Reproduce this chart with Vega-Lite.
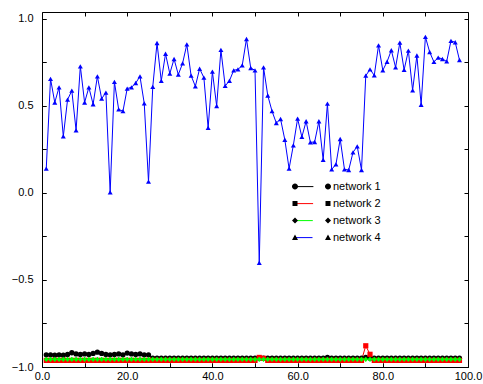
{
"$schema":"https://vega.github.io/schema/vega-lite/v6.json",
"width":426,"height":355,
"autosize":{"type":"none"},
"padding":{"left":42,"top":12,"right":15,"bottom":17},
"background":"white",
"config":{"view":{"stroke":"black","strokeWidth":1},"font":"Liberation Sans",
 "axis":{"title":null,"domain":false,"grid":true,"gridColor":"black","gridOpacity":1,"gridWidth":1,"tickColor":"black","tickWidth":1,"labelColor":"black","labelFont":"Liberation Sans","labelFontSize":11,"labelOverlap":false,"labelFlush":false}},
"data":{"values":[
{"series":"network 1","x":1,"y":-0.93},{"series":"network 1","x":2,"y":-0.93},{"series":"network 1","x":3,"y":-0.932},{"series":"network 1","x":4,"y":-0.93},{"series":"network 1","x":5,"y":-0.932},{"series":"network 1","x":6,"y":-0.928},{"series":"network 1","x":7,"y":-0.918},{"series":"network 1","x":8,"y":-0.925},{"series":"network 1","x":9,"y":-0.928},{"series":"network 1","x":10,"y":-0.925},{"series":"network 1","x":11,"y":-0.928},{"series":"network 1","x":12,"y":-0.922},{"series":"network 1","x":13,"y":-0.915},{"series":"network 1","x":14,"y":-0.922},{"series":"network 1","x":15,"y":-0.928},{"series":"network 1","x":16,"y":-0.93},{"series":"network 1","x":17,"y":-0.928},{"series":"network 1","x":18,"y":-0.925},{"series":"network 1","x":19,"y":-0.93},{"series":"network 1","x":20,"y":-0.92},{"series":"network 1","x":21,"y":-0.925},{"series":"network 1","x":22,"y":-0.928},{"series":"network 1","x":23,"y":-0.925},{"series":"network 1","x":24,"y":-0.93},{"series":"network 1","x":25,"y":-0.93},
{"series":"network 1","x":26,"y":-0.949},{"series":"network 1","x":27,"y":-0.949},{"series":"network 1","x":28,"y":-0.949},{"series":"network 1","x":29,"y":-0.949},{"series":"network 1","x":30,"y":-0.949},{"series":"network 1","x":31,"y":-0.949},{"series":"network 1","x":32,"y":-0.949},{"series":"network 1","x":33,"y":-0.949},{"series":"network 1","x":34,"y":-0.949},{"series":"network 1","x":35,"y":-0.949},{"series":"network 1","x":36,"y":-0.949},{"series":"network 1","x":37,"y":-0.949},{"series":"network 1","x":38,"y":-0.949},{"series":"network 1","x":39,"y":-0.949},{"series":"network 1","x":40,"y":-0.949},{"series":"network 1","x":41,"y":-0.949},{"series":"network 1","x":42,"y":-0.949},{"series":"network 1","x":43,"y":-0.949},{"series":"network 1","x":44,"y":-0.949},{"series":"network 1","x":45,"y":-0.949},{"series":"network 1","x":46,"y":-0.949},{"series":"network 1","x":47,"y":-0.949},{"series":"network 1","x":48,"y":-0.949},{"series":"network 1","x":49,"y":-0.949},{"series":"network 1","x":50,"y":-0.949},{"series":"network 1","x":51,"y":-0.949},{"series":"network 1","x":52,"y":-0.949},{"series":"network 1","x":53,"y":-0.949},{"series":"network 1","x":54,"y":-0.949},{"series":"network 1","x":55,"y":-0.949},{"series":"network 1","x":56,"y":-0.949},{"series":"network 1","x":57,"y":-0.949},{"series":"network 1","x":58,"y":-0.949},{"series":"network 1","x":59,"y":-0.949},{"series":"network 1","x":60,"y":-0.949},{"series":"network 1","x":61,"y":-0.949},{"series":"network 1","x":62,"y":-0.949},{"series":"network 1","x":63,"y":-0.949},{"series":"network 1","x":64,"y":-0.949},{"series":"network 1","x":65,"y":-0.949},{"series":"network 1","x":66,"y":-0.949},{"series":"network 1","x":67,"y":-0.945},{"series":"network 1","x":68,"y":-0.949},{"series":"network 1","x":69,"y":-0.949},{"series":"network 1","x":70,"y":-0.949},{"series":"network 1","x":71,"y":-0.949},{"series":"network 1","x":72,"y":-0.949},{"series":"network 1","x":73,"y":-0.949},{"series":"network 1","x":74,"y":-0.949},{"series":"network 1","x":75,"y":-0.949},{"series":"network 1","x":76,"y":-0.945},{"series":"network 1","x":77,"y":-0.949},{"series":"network 1","x":78,"y":-0.949},{"series":"network 1","x":79,"y":-0.949},{"series":"network 1","x":80,"y":-0.949},{"series":"network 1","x":81,"y":-0.949},{"series":"network 1","x":82,"y":-0.949},{"series":"network 1","x":83,"y":-0.949},{"series":"network 1","x":84,"y":-0.949},{"series":"network 1","x":85,"y":-0.949},{"series":"network 1","x":86,"y":-0.949},{"series":"network 1","x":87,"y":-0.949},{"series":"network 1","x":88,"y":-0.949},{"series":"network 1","x":89,"y":-0.949},{"series":"network 1","x":90,"y":-0.949},{"series":"network 1","x":91,"y":-0.949},{"series":"network 1","x":92,"y":-0.949},{"series":"network 1","x":93,"y":-0.949},{"series":"network 1","x":94,"y":-0.949},{"series":"network 1","x":95,"y":-0.949},{"series":"network 1","x":96,"y":-0.949},{"series":"network 1","x":97,"y":-0.949},{"series":"network 1","x":98,"y":-0.949},
{"series":"network 2","x":1,"y":-0.962},{"series":"network 2","x":2,"y":-0.962},{"series":"network 2","x":3,"y":-0.962},{"series":"network 2","x":4,"y":-0.962},{"series":"network 2","x":5,"y":-0.962},{"series":"network 2","x":6,"y":-0.962},{"series":"network 2","x":7,"y":-0.962},{"series":"network 2","x":8,"y":-0.962},{"series":"network 2","x":9,"y":-0.962},{"series":"network 2","x":10,"y":-0.962},{"series":"network 2","x":11,"y":-0.962},{"series":"network 2","x":12,"y":-0.962},{"series":"network 2","x":13,"y":-0.962},{"series":"network 2","x":14,"y":-0.962},{"series":"network 2","x":15,"y":-0.962},{"series":"network 2","x":16,"y":-0.962},{"series":"network 2","x":17,"y":-0.962},{"series":"network 2","x":18,"y":-0.962},{"series":"network 2","x":19,"y":-0.962},{"series":"network 2","x":20,"y":-0.962},{"series":"network 2","x":21,"y":-0.962},{"series":"network 2","x":22,"y":-0.962},{"series":"network 2","x":23,"y":-0.962},{"series":"network 2","x":24,"y":-0.962},{"series":"network 2","x":25,"y":-0.962},{"series":"network 2","x":26,"y":-0.962},{"series":"network 2","x":27,"y":-0.962},{"series":"network 2","x":28,"y":-0.962},{"series":"network 2","x":29,"y":-0.962},{"series":"network 2","x":30,"y":-0.962},{"series":"network 2","x":31,"y":-0.962},{"series":"network 2","x":32,"y":-0.962},{"series":"network 2","x":33,"y":-0.962},{"series":"network 2","x":34,"y":-0.962},{"series":"network 2","x":35,"y":-0.962},{"series":"network 2","x":36,"y":-0.962},{"series":"network 2","x":37,"y":-0.962},{"series":"network 2","x":38,"y":-0.962},{"series":"network 2","x":39,"y":-0.962},{"series":"network 2","x":40,"y":-0.962},{"series":"network 2","x":41,"y":-0.962},{"series":"network 2","x":42,"y":-0.962},{"series":"network 2","x":43,"y":-0.962},{"series":"network 2","x":44,"y":-0.962},{"series":"network 2","x":45,"y":-0.962},{"series":"network 2","x":46,"y":-0.962},{"series":"network 2","x":47,"y":-0.962},{"series":"network 2","x":48,"y":-0.962},{"series":"network 2","x":49,"y":-0.962},{"series":"network 2","x":50,"y":-0.962},{"series":"network 2","x":51,"y":-0.945},{"series":"network 2","x":52,"y":-0.95},{"series":"network 2","x":53,"y":-0.962},{"series":"network 2","x":54,"y":-0.962},{"series":"network 2","x":55,"y":-0.962},{"series":"network 2","x":56,"y":-0.962},{"series":"network 2","x":57,"y":-0.962},{"series":"network 2","x":58,"y":-0.962},{"series":"network 2","x":59,"y":-0.962},{"series":"network 2","x":60,"y":-0.962},{"series":"network 2","x":61,"y":-0.962},{"series":"network 2","x":62,"y":-0.962},{"series":"network 2","x":63,"y":-0.962},{"series":"network 2","x":64,"y":-0.962},{"series":"network 2","x":65,"y":-0.962},{"series":"network 2","x":66,"y":-0.962},{"series":"network 2","x":67,"y":-0.962},{"series":"network 2","x":68,"y":-0.962},{"series":"network 2","x":69,"y":-0.962},{"series":"network 2","x":70,"y":-0.962},{"series":"network 2","x":71,"y":-0.962},{"series":"network 2","x":72,"y":-0.962},{"series":"network 2","x":73,"y":-0.962},{"series":"network 2","x":74,"y":-0.962},{"series":"network 2","x":75,"y":-0.962},{"series":"network 2","x":76,"y":-0.878},{"series":"network 2","x":77,"y":-0.927},{"series":"network 2","x":78,"y":-0.962},{"series":"network 2","x":79,"y":-0.962},{"series":"network 2","x":80,"y":-0.962},{"series":"network 2","x":81,"y":-0.962},{"series":"network 2","x":82,"y":-0.962},{"series":"network 2","x":83,"y":-0.962},{"series":"network 2","x":84,"y":-0.962},{"series":"network 2","x":85,"y":-0.962},{"series":"network 2","x":86,"y":-0.962},{"series":"network 2","x":87,"y":-0.962},{"series":"network 2","x":88,"y":-0.962},{"series":"network 2","x":89,"y":-0.962},{"series":"network 2","x":90,"y":-0.962},{"series":"network 2","x":91,"y":-0.962},{"series":"network 2","x":92,"y":-0.962},{"series":"network 2","x":93,"y":-0.962},{"series":"network 2","x":94,"y":-0.962},{"series":"network 2","x":95,"y":-0.962},{"series":"network 2","x":96,"y":-0.962},{"series":"network 2","x":97,"y":-0.962},{"series":"network 2","x":98,"y":-0.962},
{"series":"network 3","x":1,"y":-0.956},{"series":"network 3","x":2,"y":-0.956},{"series":"network 3","x":3,"y":-0.956},{"series":"network 3","x":4,"y":-0.956},{"series":"network 3","x":5,"y":-0.956},{"series":"network 3","x":6,"y":-0.956},{"series":"network 3","x":7,"y":-0.956},{"series":"network 3","x":8,"y":-0.956},{"series":"network 3","x":9,"y":-0.956},{"series":"network 3","x":10,"y":-0.956},{"series":"network 3","x":11,"y":-0.956},{"series":"network 3","x":12,"y":-0.956},{"series":"network 3","x":13,"y":-0.956},{"series":"network 3","x":14,"y":-0.956},{"series":"network 3","x":15,"y":-0.956},{"series":"network 3","x":16,"y":-0.956},{"series":"network 3","x":17,"y":-0.956},{"series":"network 3","x":18,"y":-0.956},{"series":"network 3","x":19,"y":-0.956},{"series":"network 3","x":20,"y":-0.956},{"series":"network 3","x":21,"y":-0.956},{"series":"network 3","x":22,"y":-0.956},{"series":"network 3","x":23,"y":-0.956},{"series":"network 3","x":24,"y":-0.956},{"series":"network 3","x":25,"y":-0.956},{"series":"network 3","x":26,"y":-0.956},{"series":"network 3","x":27,"y":-0.956},{"series":"network 3","x":28,"y":-0.956},{"series":"network 3","x":29,"y":-0.956},{"series":"network 3","x":30,"y":-0.956},{"series":"network 3","x":31,"y":-0.956},{"series":"network 3","x":32,"y":-0.956},{"series":"network 3","x":33,"y":-0.956},{"series":"network 3","x":34,"y":-0.956},{"series":"network 3","x":35,"y":-0.956},{"series":"network 3","x":36,"y":-0.956},{"series":"network 3","x":37,"y":-0.956},{"series":"network 3","x":38,"y":-0.956},{"series":"network 3","x":39,"y":-0.956},{"series":"network 3","x":40,"y":-0.956},{"series":"network 3","x":41,"y":-0.956},{"series":"network 3","x":42,"y":-0.956},{"series":"network 3","x":43,"y":-0.956},{"series":"network 3","x":44,"y":-0.956},{"series":"network 3","x":45,"y":-0.956},{"series":"network 3","x":46,"y":-0.956},{"series":"network 3","x":47,"y":-0.956},{"series":"network 3","x":48,"y":-0.956},{"series":"network 3","x":49,"y":-0.956},{"series":"network 3","x":50,"y":-0.956},{"series":"network 3","x":51,"y":-0.956},{"series":"network 3","x":52,"y":-0.956},{"series":"network 3","x":53,"y":-0.956},{"series":"network 3","x":54,"y":-0.956},{"series":"network 3","x":55,"y":-0.956},{"series":"network 3","x":56,"y":-0.956},{"series":"network 3","x":57,"y":-0.956},{"series":"network 3","x":58,"y":-0.956},{"series":"network 3","x":59,"y":-0.956},{"series":"network 3","x":60,"y":-0.956},{"series":"network 3","x":61,"y":-0.956},{"series":"network 3","x":62,"y":-0.956},{"series":"network 3","x":63,"y":-0.956},{"series":"network 3","x":64,"y":-0.956},{"series":"network 3","x":65,"y":-0.956},{"series":"network 3","x":66,"y":-0.956},{"series":"network 3","x":67,"y":-0.956},{"series":"network 3","x":68,"y":-0.956},{"series":"network 3","x":69,"y":-0.956},{"series":"network 3","x":70,"y":-0.956},{"series":"network 3","x":71,"y":-0.956},{"series":"network 3","x":72,"y":-0.956},{"series":"network 3","x":73,"y":-0.956},{"series":"network 3","x":74,"y":-0.956},{"series":"network 3","x":75,"y":-0.956},{"series":"network 3","x":76,"y":-0.956},{"series":"network 3","x":77,"y":-0.956},{"series":"network 3","x":78,"y":-0.956},{"series":"network 3","x":79,"y":-0.956},{"series":"network 3","x":80,"y":-0.956},{"series":"network 3","x":81,"y":-0.956},{"series":"network 3","x":82,"y":-0.956},{"series":"network 3","x":83,"y":-0.956},{"series":"network 3","x":84,"y":-0.956},{"series":"network 3","x":85,"y":-0.956},{"series":"network 3","x":86,"y":-0.956},{"series":"network 3","x":87,"y":-0.956},{"series":"network 3","x":88,"y":-0.956},{"series":"network 3","x":89,"y":-0.956},{"series":"network 3","x":90,"y":-0.956},{"series":"network 3","x":91,"y":-0.956},{"series":"network 3","x":92,"y":-0.956},{"series":"network 3","x":93,"y":-0.956},{"series":"network 3","x":94,"y":-0.956},{"series":"network 3","x":95,"y":-0.956},{"series":"network 3","x":96,"y":-0.956},{"series":"network 3","x":97,"y":-0.956},{"series":"network 3","x":98,"y":-0.956},
{"series":"network 4","x":1,"y":0.14},{"series":"network 4","x":2,"y":0.656},{"series":"network 4","x":3,"y":0.52},{"series":"network 4","x":4,"y":0.607},{"series":"network 4","x":5,"y":0.325},{"series":"network 4","x":6,"y":0.536},{"series":"network 4","x":7,"y":0.588},{"series":"network 4","x":8,"y":0.36},{"series":"network 4","x":9,"y":0.728},{"series":"network 4","x":10,"y":0.52},{"series":"network 4","x":11,"y":0.607},{"series":"network 4","x":12,"y":0.51},{"series":"network 4","x":13,"y":0.67},{"series":"network 4","x":14,"y":0.542},{"series":"network 4","x":15,"y":0.577},{"series":"network 4","x":16,"y":0.003},{"series":"network 4","x":17,"y":0.638},{"series":"network 4","x":18,"y":0.48},{"series":"network 4","x":19,"y":0.47},{"series":"network 4","x":20,"y":0.6},{"series":"network 4","x":21,"y":0.607},{"series":"network 4","x":22,"y":0.632},{"series":"network 4","x":23,"y":0.67},{"series":"network 4","x":24,"y":0.515},{"series":"network 4","x":25,"y":0.065},{"series":"network 4","x":26,"y":0.61},{"series":"network 4","x":27,"y":0.862},{"series":"network 4","x":28,"y":0.644},{"series":"network 4","x":29,"y":0.8},{"series":"network 4","x":30,"y":0.686},{"series":"network 4","x":31,"y":0.77},{"series":"network 4","x":32,"y":0.68},{"series":"network 4","x":33,"y":0.745},{"series":"network 4","x":34,"y":0.854},{"series":"network 4","x":35,"y":0.674},{"series":"network 4","x":36,"y":0.613},{"series":"network 4","x":37,"y":0.714},{"series":"network 4","x":38,"y":0.663},{"series":"network 4","x":39,"y":0.374},{"series":"network 4","x":40,"y":0.697},{"series":"network 4","x":41,"y":0.5},{"series":"network 4","x":42,"y":0.822},{"series":"network 4","x":43,"y":0.615},{"series":"network 4","x":44,"y":0.645},{"series":"network 4","x":45,"y":0.705},{"series":"network 4","x":46,"y":0.71},{"series":"network 4","x":47,"y":0.733},{"series":"network 4","x":48,"y":0.885},{"series":"network 4","x":49,"y":0.718},{"series":"network 4","x":50,"y":0.705},{"series":"network 4","x":51,"y":-0.402},{"series":"network 4","x":52,"y":0.722},{"series":"network 4","x":53,"y":0.56},{"series":"network 4","x":54,"y":0.47},{"series":"network 4","x":55,"y":0.402},{"series":"network 4","x":56,"y":0.425},{"series":"network 4","x":57,"y":0.306},{"series":"network 4","x":58,"y":0.14},{"series":"network 4","x":59,"y":0.274},{"series":"network 4","x":60,"y":0.427},{"series":"network 4","x":61,"y":0.322},{"series":"network 4","x":62,"y":0.412},{"series":"network 4","x":63,"y":0.291},{"series":"network 4","x":64,"y":0.293},{"series":"network 4","x":65,"y":0.412},{"series":"network 4","x":66,"y":0.19},{"series":"network 4","x":67,"y":0.513},{"series":"network 4","x":68,"y":0.136},{"series":"network 4","x":69,"y":0.164},{"series":"network 4","x":70,"y":0.31},{"series":"network 4","x":71,"y":0.136},{"series":"network 4","x":72,"y":0.132},{"series":"network 4","x":73,"y":0.233},{"series":"network 4","x":74,"y":0.268},{"series":"network 4","x":75,"y":0.132},{"series":"network 4","x":76,"y":0.674},{"series":"network 4","x":77,"y":0.71},{"series":"network 4","x":78,"y":0.676},{"series":"network 4","x":79,"y":0.848},{"series":"network 4","x":80,"y":0.705},{"series":"network 4","x":81,"y":0.754},{"series":"network 4","x":82,"y":0.82},{"series":"network 4","x":83,"y":0.722},{"series":"network 4","x":84,"y":0.864},{"series":"network 4","x":85,"y":0.707},{"series":"network 4","x":86,"y":0.818},{"series":"network 4","x":87,"y":0.59},{"series":"network 4","x":88,"y":0.79},{"series":"network 4","x":89,"y":0.507},{"series":"network 4","x":90,"y":0.897},{"series":"network 4","x":91,"y":0.81},{"series":"network 4","x":92,"y":0.753},{"series":"network 4","x":93,"y":0.778},{"series":"network 4","x":94,"y":0.77},{"series":"network 4","x":95,"y":0.756},{"series":"network 4","x":96,"y":0.874},{"series":"network 4","x":97,"y":0.866},{"series":"network 4","x":98,"y":0.764}
]},
"encoding":{
 "x":{"field":"x","type":"quantitative","scale":{"domain":[0,100],"nice":false,"zero":false},
   "axis":{"orient":"bottom","values":[0,10,20,30,40,50,60,70,80,90,100],"labelExpr":"datum.value % 20 == 0 ? format(datum.value, '.1f') : ''","ticks":true,"tickSize":4,"offset":-4,"labelPadding":3,"gridDash":[4,347]}},
 "y":{"field":"y","type":"quantitative","scale":{"domain":[-1,1.04],"nice":false,"zero":false},
   "axis":{"orient":"left","values":[-1,-0.75,-0.5,-0.25,0,0.25,0.5,0.75,1],"labelExpr":"(datum.value*2) % 1 == 0 ? format(datum.value, '.1f') : ''","ticks":true,"tickSize":4,"offset":-4,"labelPadding":9,"gridDash":[4,418]}}
},
"layer":[
 {"mark":{"type":"line","strokeWidth":1},
  "encoding":{
   "color":{"field":"series","type":"nominal","scale":{"domain":["network 1","network 2","network 3","network 4"],"range":["#000000","#ff0000","#00ff00","#0000ff"]},
     "legend":{"orient":"none","legendX":249.5,"legendY":166.5,"title":null,"symbolType":"M-0.4,0H6.2","symbolSize":100,"symbolStrokeWidth":1,"symbolFillColor":"transparent","labelExpr":"''","labelFontSize":11,"labelOffset":30.5,"clipHeight":16.2,"rowPadding":0,"padding":0,"zindex":1}}
  }},
 {"mark":{"type":"point","filled":true,"opacity":1,"strokeWidth":0},
  "encoding":{
   "fill":{"field":"series","type":"nominal","scale":{"domain":["network 1","network 2","network 3","network 4"],"range":["#000000","#ff0000","#00ff00","#0000ff"]},"legend":null},
   "size":{"field":"series","type":"nominal","scale":{"domain":["network 1","network 2","network 3","network 4"],"range":[28,25,30,50]},"legend":null},
   "shape":{"field":"series","type":"nominal","scale":{"domain":["network 1","network 2","network 3","network 4"],"range":["circle","square","diamond","triangle-up"]},"legend":null}
  }},
 {"mark":{"type":"point","filled":true,"opacity":0,"color":"black","size":100,"strokeWidth":0},
  "encoding":{
   "shape":{"field":"series","type":"nominal","scale":{"domain":["network 4","network 3","network 2","network 1"],"range":["M-0.4,-0.6L0.2,0.5L-1,0.5Z M6.2,-0.6L6.8,0.5L5.6,0.5Z","M-0.4,-0.6L0.2,0L-0.4,0.6L-1,0Z M6.2,-0.6L6.8,0L6.2,0.6L5.6,0Z","M-0.9,-0.5H0.1V0.5H-0.9Z M5.7,-0.5H6.7V0.5H5.7Z","M-1,0A0.6,0.6,0,1,0,0.2,0A0.6,0.6,0,1,0,-1,0Z M5.6,0A0.6,0.6,0,1,0,6.8,0A0.6,0.6,0,1,0,5.6,0Z"]},
     "legend":{"orient":"none","legendX":249.5,"legendY":166.5,"title":null,"values":["network 1","network 2","network 3","network 4"],"symbolSize":100,"symbolStrokeWidth":1,"symbolStrokeColor":"transparent","symbolFillColor":"black","symbolOpacity":1,"labelFontSize":11,"labelFont":"Liberation Sans","labelColor":"black","labelOffset":30.5,"clipHeight":16.2,"rowPadding":0,"padding":0,"zindex":2}}
  }}
],
"resolve":{"scale":{"shape":"independent"}}
}
